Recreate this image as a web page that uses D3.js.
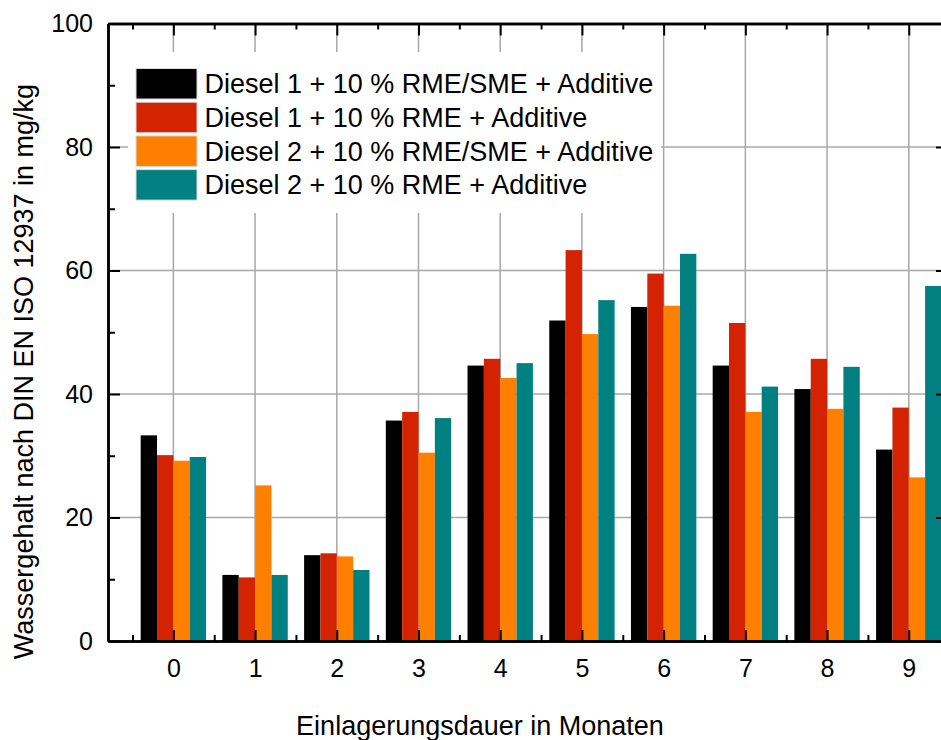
<!DOCTYPE html>
<html>
  <head>
    <meta charset="utf-8">
    <title>Wassergehalt</title>
    <script src="https://cdn.jsdelivr.net/npm/d3@7"></script>
    <style>
      body { margin: 0; background: #fff; }
      text { font-family: "Liberation Sans", Arial, sans-serif; fill: #000; }
      .grid-line { stroke: #a8a8a8; stroke-width: 1.5px; }
      .axis path, .axis line { stroke: #000; }
      .axis path { stroke-width: 2.5px; }
      .axis line { stroke-width: 2px; }
    </style>
  </head>
  <body>
    <script>
      const width = 941;
      const height = 740;

      // data
      const months = [0, 1, 2, 3, 4, 5, 6, 7, 8, 9];
      const seriesNames = [
        "Diesel 1 + 10 % RME/SME + Additive",
        "Diesel 1 + 10 % RME + Additive",
        "Diesel 2 + 10 % RME/SME + Additive",
        "Diesel 2 + 10 % RME + Additive"
      ];
      const seriesColors = ["#000000", "#d42300", "#ff8000", "#008080"];
      const diesel1RmeSme = [33.3, 10.7, 13.9, 35.7, 44.6, 51.9, 54.1, 44.6, 40.8, 31.0];
      const diesel1Rme = [30.1, 10.3, 14.2, 37.1, 45.7, 63.3, 59.5, 51.5, 45.7, 37.8];
      const diesel2RmeSme = [29.2, 25.2, 13.7, 30.5, 42.6, 49.7, 54.3, 37.1, 37.6, 26.5];
      const diesel2Rme = [29.8, 10.7, 11.5, 36.1, 45.0, 55.2, 62.7, 41.2, 44.4, 57.5];
      const yTicks = [0, 20, 40, 60, 80, 100];
      const yMinorTicks = [10, 30, 50, 70, 90];
      const xMinorTicks = months.map(function(m) { return m - 0.5; });
      const xTitle = "Einlagerungsdauer in Monaten";
      const yTitle = "Wassergehalt nach DIN EN ISO 12937 in mg/kg";

      const seriesValues = [diesel1RmeSme, diesel1Rme, diesel2RmeSme, diesel2Rme];

      const plotLeft = 108, plotRight = 948, plotTop = 23.5, plotBottom = 641;

      const xScale = d3.scaleLinear()
        .domain([-0.8, 9.48])
        .range([plotLeft, plotRight]);

      const yScale = d3.scaleLinear()
        .domain([0, 100])
        .range([plotBottom, plotTop]);

      const step = xScale(1) - xScale(0);
      const subScale = d3.scaleBand()
        .domain(d3.range(seriesNames.length))
        .range([-0.4 * step, 0.4 * step]);

      const svg = d3.select("body")
        .append("svg")
          .attr("width", width)
          .attr("height", height);

      // grid
      const grid = svg.append("g");
      grid.selectAll("line.v")
        .data(months)
        .enter()
        .append("line")
          .classed("grid-line", true)
          .attr("x1", function(d) { return xScale(d); })
          .attr("x2", function(d) { return xScale(d); })
          .attr("y1", plotTop)
          .attr("y2", plotBottom);
      grid.selectAll("line.h")
        .data(yTicks.slice(1, -1))
        .enter()
        .append("line")
          .classed("grid-line", true)
          .attr("x1", plotLeft)
          .attr("x2", plotRight)
          .attr("y1", function(d) { return yScale(d); })
          .attr("y2", function(d) { return yScale(d); });

      // bars
      svg.append("g")
        .selectAll("g")
        .data(seriesValues)
        .enter()
        .append("g")
          .attr("fill", function(d, i) { return seriesColors[i]; })
          .each(function(values, si) {
            d3.select(this).selectAll("rect")
              .data(values)
              .enter()
              .append("rect")
                .attr("x", function(d, i) { return xScale(months[i]) + subScale(si); })
                .attr("width", subScale.bandwidth())
                .attr("y", function(d) { return yScale(d); })
                .attr("height", function(d) { return plotBottom - yScale(d); });
          });

      // legend
      const legend = svg.append("g");
      legend.append("rect")
        .attr("x", 128)
        .attr("y", 52)
        .attr("width", 533)
        .attr("height", 161)
        .attr("fill", "#fff");
      const items = legend.selectAll("g.item")
        .data(seriesNames)
        .enter()
        .append("g")
          .attr("transform", function(d, i) { return "translate(136," + (68.5 + i * 33.7) + ")"; });
      items.append("rect")
        .attr("width", 61)
        .attr("height", 30.5)
        .attr("fill", function(d, i) { return seriesColors[i]; })
        .attr("stroke", "#dcdcdc")
        .attr("stroke-width", 1);
      items.append("text")
        .attr("x", 68.5)
        .attr("y", 15.3)
        .attr("dy", "0.35em")
        .style("font-size", "27px")
        .text(function(d) { return d; });

      // axes
      function styleAxis(g) {
        g.classed("axis", true);
        g.selectAll("text")
          .style("font-size", "25px")
          .style("font-family", "'Liberation Sans', Arial, sans-serif")
          .attr("fill", "#000");
      }

      svg.append("g")
        .attr("transform", "translate(0," + plotBottom + ")")
        .call(d3.axisBottom(xScale).tickValues(months).tickSize(-11).tickSizeOuter(0).tickPadding(18))
        .call(styleAxis);
      svg.append("g")
        .attr("transform", "translate(0," + plotBottom + ")")
        .call(d3.axisBottom(xScale).tickValues(xMinorTicks).tickSize(-6).tickSizeOuter(0).tickFormat(""))
        .call(styleAxis);

      svg.append("g")
        .attr("transform", "translate(0," + plotTop + ")")
        .call(d3.axisTop(xScale).tickValues(months).tickSize(-12).tickSizeOuter(0).tickFormat(""))
        .call(styleAxis);
      svg.append("g")
        .attr("transform", "translate(0," + plotTop + ")")
        .call(d3.axisTop(xScale).tickValues(xMinorTicks).tickSize(-6).tickSizeOuter(0).tickFormat(""))
        .call(styleAxis);

      svg.append("g")
        .attr("transform", "translate(" + plotLeft + ",0)")
        .call(d3.axisLeft(yScale).tickValues(yTicks).tickSize(-12).tickSizeOuter(0).tickPadding(15))
        .call(styleAxis);
      svg.append("g")
        .attr("transform", "translate(" + plotLeft + ",0)")
        .call(d3.axisLeft(yScale).tickValues(yMinorTicks).tickSize(-7).tickSizeOuter(0).tickFormat(""))
        .call(styleAxis);

      svg.append("g")
        .attr("transform", "translate(" + plotRight + ",0)")
        .call(d3.axisRight(yScale).tickValues(yTicks).tickSize(-12).tickSizeOuter(0).tickFormat(""))
        .call(styleAxis);
      svg.append("g")
        .attr("transform", "translate(" + plotRight + ",0)")
        .call(d3.axisRight(yScale).tickValues(yMinorTicks).tickSize(-7).tickSizeOuter(0).tickFormat(""))
        .call(styleAxis);

      // titles
      svg.append("text")
        .attr("x", 480)
        .attr("y", 735)
        .attr("text-anchor", "middle")
        .style("font-size", "27px")
        .text(xTitle);

      svg.append("text")
        .attr("transform", "translate(33,371.5) rotate(-90)")
        .attr("text-anchor", "middle")
        .style("font-size", "27px")
        .text(yTitle);
    </script>
  </body>
</html>
